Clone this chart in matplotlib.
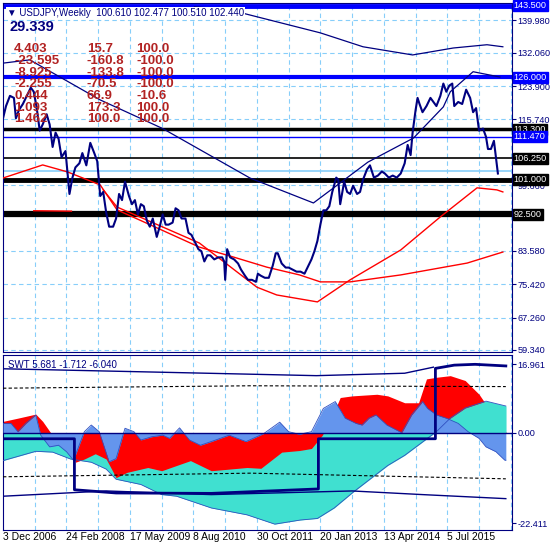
import matplotlib
matplotlib.use("Agg")
import matplotlib.pyplot as plt
import numpy as np
import pandas as pd

plt.rcParams['font.family'] = ['Liberation Sans', 'DejaVu Sans']

navy = '#000080'
gridc = '#87cefa'
tableRed = '#b22222'

start = pd.Timestamp('2006-12-03')

# weekly closes (approx)
priceDates = ['2006-12-03','2006-12-24','2007-01-21','2007-02-18','2007-03-04','2007-03-25','2007-04-22',
    '2007-05-20','2007-06-17','2007-07-08','2007-07-29','2007-08-19','2007-09-09','2007-10-07','2007-10-28',
    '2007-11-18','2007-12-09','2007-12-30','2008-01-20','2008-02-17','2008-03-16','2008-04-06','2008-04-27',
    '2008-05-25','2008-06-15','2008-07-13','2008-08-10','2008-09-07','2008-09-28','2008-10-19','2008-11-09',
    '2008-11-30','2008-12-21','2009-01-18','2009-02-08','2009-03-01','2009-03-22','2009-04-12','2009-05-10',
    '2009-05-31','2009-06-21','2009-07-12','2009-08-02','2009-08-23','2009-09-13','2009-10-04','2009-10-25',
    '2009-11-22','2009-12-13','2010-01-03','2010-01-24','2010-02-14','2010-03-14','2010-04-04','2010-04-25',
    '2010-05-16','2010-06-13','2010-07-04','2010-07-25','2010-08-22','2010-09-12','2010-10-03','2010-10-24',
    '2010-11-14','2010-12-05','2011-01-02','2011-01-30','2011-02-27','2011-03-13','2011-03-20','2011-04-03',
    '2011-04-24','2011-05-22','2011-06-19','2011-07-10','2011-08-07','2011-08-28','2011-09-25','2011-10-23',
    '2011-11-06','2011-11-27','2011-12-25','2012-01-22','2012-02-19','2012-03-11','2012-03-25','2012-04-22',
    '2012-05-20','2012-06-10','2012-07-08','2012-08-05','2012-09-02','2012-09-30','2012-10-28','2012-11-18',
    '2012-12-09','2012-12-30','2013-01-20','2013-02-10','2013-03-03','2013-03-24','2013-04-14','2013-05-12',
    '2013-05-26','2013-06-09','2013-07-07','2013-07-28','2013-08-18','2013-09-08','2013-10-06','2013-10-27',
    '2013-11-17','2013-12-15','2014-01-05','2014-02-02','2014-03-02','2014-03-30','2014-04-20','2014-05-18',
    '2014-06-15','2014-07-13','2014-08-10','2014-09-07','2014-09-28','2014-10-19','2014-11-02','2014-11-23',
    '2014-12-07','2014-12-21','2015-01-11','2015-02-08','2015-03-08','2015-03-29','2015-04-19','2015-05-17',
    '2015-06-07','2015-06-28','2015-07-19','2015-08-09','2015-08-23','2015-09-20','2015-10-18','2015-11-15',
    '2015-12-13','2016-01-03','2016-01-24','2016-02-14','2016-03-13','2016-04-03','2016-04-17','2016-05-08',
    '2016-05-29','2016-06-12','2016-06-26']
priceClose = [116.0,119.0,121.5,121.0,116.0,118.0,119.5,121.5,123.5,122.5,118.5,113.0,114.5,117.0,114.5,
    109.0,112.5,111.0,106.5,108.0,97.5,101.5,104.0,105.0,107.5,104.5,110.0,107.5,105.5,97.0,98.0,
    93.0,89.5,89.5,91.5,97.5,96.0,100.5,97.0,95.0,96.0,92.5,95.0,94.5,91.0,89.5,91.5,
    87.0,89.5,92.5,90.0,90.0,90.5,94.0,93.5,91.5,91.5,88.0,87.5,85.5,84.0,83.5,81.0,
    82.5,82.5,81.5,82.0,82.0,81.0,76.5,84.0,82.0,81.5,80.5,79.0,77.5,76.5,76.5,76.0,
    78.0,77.5,77.0,77.0,80.0,83.0,83.0,80.5,79.5,79.5,79.0,78.5,78.5,78.0,80.0,81.5,
    83.5,86.0,90.0,93.5,93.5,94.5,98.0,101.5,101.0,95.0,100.5,98.0,97.5,99.5,97.5,98.0,
    101.0,103.5,104.5,101.5,102.0,103.0,102.5,101.5,102.0,101.5,102.5,105.0,109.5,107.0,112.5,118.0,
    121.0,119.5,117.5,119.0,121.0,120.0,119.0,121.5,124.5,122.5,124.0,124.5,119.0,120.0,119.5,123.0,
    121.0,117.5,118.5,113.0,113.5,111.5,108.5,108.5,110.5,106.5,102.5]

# indicator curves on the price panel (week index, price)
maLongWk = [0, 40, 65, 98, 115, 138, 198, 232, 266, 299, 320, 350, 401, 468, 504]
maLongVal = [101.4, 104.6, 102.9, 99.7, 93.6, 91.1, 84.5, 82.1, 79.6, 77.7, 76.0, 76.0, 77.7, 80.6, 83.3]
maStubWk = [31, 69]
maStubVal = [93.4, 93.3]
maShortWk = [101, 115, 198, 256, 276, 317, 350, 401, 441, 478, 498, 504]
maShortVal = [98.5, 94.3, 85.5, 74.7, 72.8, 71.1, 76.5, 83.8, 91.9, 99.0, 98.5, 98.0]
bandLowWk = [0, 27, 98, 161, 249, 313, 368, 414, 444, 451, 474, 501]
bandLowVal = [129.5, 130.3, 120.5, 113.5, 101.4, 95.3, 105.3, 111.2, 118.8, 122.5, 127.4, 126.1]
bandUpWk = [193, 229, 320, 363, 413, 454, 488, 504]
bandUpVal = [143.3, 142.5, 136.9, 133.5, 131.5, 133.2, 134.0, 133.5]

levels = [143.5, 126.0, 113.3, 111.47, 106.25, 103.14, 101.0, 92.5]
levelColors = ['#0000ff', '#0000ff', 'black', '#0000ff', 'black', '#87cefa', 'black', 'black']
levelWidths = [3.5, 3, 2.5, 1, 1.2, 1.2, 3.5, 4.5]
boxLevels = [143.5, 126.0, 113.3, 111.47, 106.25, 101.0, 92.5]
boxColors = ['#0000ff', '#0000ff', 'black', '#0000ff', 'black', 'black', 'black']
priceTicks = [139.98, 132.06, 123.90, 115.74, 99.66, 83.58, 75.42, 67.26, 59.34]

tableRows = [['4.403', '15.7', '100.0'], ['-23.595', '-160.8', '-100.0'], ['-8.925', '-133.8', '-100.0'],
             ['-2.255', '-70.5', '-100.0'], ['0.444', '66.9', '-10.6'], ['1.093', '173.3', '100.0'],
             ['1.462', '100.0', '100.0']]

# SWT sub panel
fastWk = [0,8,15,23,33,38,47,56,64,71,82,89,97,107,114,123,132,139,150,161,168,178,188,199,210,228,245,263,
          279,288,299,311,323,335,345,356,362,369,376,387,402,412,423,428,437,447,459,469,480,487,497,506]
fastVal = [2.3,2.3,0.25,2.3,4.4,-0.6,-3.5,-3.1,-4.7,-6.8,0.25,1.9,0.25,-7.2,-6.4,1.1,0.25,-1.8,-1.0,-0.6,
           -1.4,1.2,-1.8,-3.1,-2.2,-0.6,-2.2,-0.2,2.6,0.25,-0.4,0.25,6.0,7.7,3.6,2.3,1.9,3.6,4.4,1.9,0.0,
           4.4,7.7,6.0,4.4,3.6,2.3,0.25,-1.4,-3.5,-4.7,-6.8]
redWk = [0,15,33,40,48,68,73,82,93,104,114,125,146,160,175,189,210,228,246,260,281,299,311,322,331,340,352,
         377,388,405,419,427,437,451,466,480,494,505]
redVal = [2.8,3.6,4.6,2.8,0,0,-7.3,-6.5,-5.2,-6.5,-11.1,-9.8,-8.6,-9.4,-8.1,-6.9,-9.4,-9.0,-8.6,-8.8,-4.8,
          -4.4,-3.9,-0.6,3.6,8.7,9.1,9.5,9.1,7.4,7.4,13.3,13.7,14.1,12.9,9.5,4.5,0.25]
slowWk = [0,33,50,68,89,104,114,139,160,175,210,246,274,299,317,334,352,370,388,405,423,437,451,466,487,507]
slowVal = [-6.9,-4.6,-4.8,-6.5,-7.3,-9.0,-11.5,-12.8,-15.3,-15.7,-18.6,-20.3,-22.6,-21.6,-21.2,-18.6,-14.9,
           -11.5,-8.1,-5.6,-2.3,0.25,3.6,6.1,7.8,6.6]
stepWk = [0, 72, 72, 114, 210, 318, 318, 436, 436, 455, 476, 507]
stepVal = [-1.5, -1.5, -14.1, -14.9, -15.0, -13.9, -1.5, -1.5, 15.9, 16.7, 16.9, 16.5]
upThinWk = [0, 150, 316, 405, 434]
upThinVal = [15.8, 15.0, 14.1, 14.7, 16.2]
lowThinWk = [0, 104, 210, 352, 423, 507]
lowThinVal = [-15.7, -14.4, -15.3, -14.4, -15.3, -16.3]
dashUpWk = [0, 250, 507]
dashUpVal = [11.0, 11.6, 11.4]
dashLowWk = [0, 250, 507]
dashLowVal = [-10.9, -10.0, -11.4]

tickWk = [0, 64, 128, 192, 256, 320, 384, 448]
tickLabels = ['3 Dec 2006', '24 Feb 2008', '17 May 2009', '8 Aug 2010', '30 Oct 2011',
              '20 Jan 2013', '13 Apr 2014', '5 Jul 2015']

priceWk = (pd.to_datetime(priceDates) - start).days / 7.0

fig = plt.figure(figsize=(5.5, 5.5), dpi=100)
ax = fig.add_axes([0.0055, 0.36, 0.925, 0.6345])
ax2 = fig.add_axes([0.0055, 0.036, 0.925, 0.3185])
xmax = 513

for a in (ax, ax2):
    a.set_xlim(0, xmax)
    for w in range(32, xmax, 32):
        a.axvline(w, color=gridc, ls=(0, (4, 3)), lw=0.8, zorder=0)
    for s in a.spines.values():
        s.set_color(navy)
    a.set_xticks([])
    a.yaxis.tick_right()
    a.tick_params(axis='y', colors=navy, labelsize=6.6, length=3, pad=1)

ax.set_ylim(58.85, 144.2)
ax.set_yticks(priceTicks)
ax.set_yticklabels(['%.3f' % v for v in priceTicks])
for v in priceTicks:
    ax.axhline(v, color=gridc, ls=(0, (4, 3)), lw=0.8, zorder=0)
for lv, c, lw in zip(levels, levelColors, levelWidths):
    ax.axhline(lv, color=c, lw=lw, zorder=2)

ax.plot(bandUpWk, bandUpVal, color=navy, lw=0.9, zorder=3)
ax.plot(bandLowWk, bandLowVal, color=navy, lw=0.9, zorder=3)
ax.plot(maLongWk, maLongVal, color='red', lw=1, zorder=3)
ax.plot(maStubWk, maStubVal, color='red', lw=1, zorder=3)
ax.plot(maShortWk, maShortVal, color='red', lw=1, zorder=3)
ax.plot(priceWk, priceClose, color=navy, lw=1.5, zorder=4)

for lv, c in zip(boxLevels, boxColors):
    ax.text(1.004, lv, '%.3f' % lv, transform=ax.get_yaxis_transform(), color='white', fontsize=6.6,
            va='center', ha='left', bbox=dict(boxstyle='square,pad=0.12', fc=c, ec=c), clip_on=False, zorder=10)

ax.text(0.008, 0.987, '\u25bc USDJPY,Weekly  100.610 102.477 100.510 102.440', transform=ax.transAxes,
        fontsize=7, color=navy, va='top', bbox=dict(fc='white', ec='none', pad=0.5))
ax.text(0.012, 0.952, '29.339', transform=ax.transAxes, fontsize=10.5, fontweight='bold', color=navy, va='top')
colX = [0.022, 0.165, 0.262]
for i, row in enumerate(tableRows):
    for j, cell in enumerate(row):
        ax.text(colX[j], 0.885 - i * 0.0335, cell, transform=ax.transAxes, fontsize=9.5,
                fontweight='bold', color=tableRed, va='top', zorder=6)

# SWT panel
ax2.set_ylim(-24.1, 19.2)
gx = np.arange(0, 508)
fast = np.interp(gx, fastWk, fastVal)
red = np.interp(gx, redWk, redVal)
slow = np.interp(gx, slowWk, slowVal)
ax2.fill_between(gx, 0, slow, color='#40e0d0', lw=0, zorder=1)
ax2.fill_between(gx, 0, red, color='#ff0000', lw=0, zorder=2)
ax2.fill_between(gx, 0, slow, where=slow > 0, color='#40e0d0', lw=0, zorder=2.5)
ax2.fill_between(gx, 0, fast, color='#6495ed', lw=0, zorder=3)
ax2.plot(gx, fast, color='#3050c0', lw=0.6, zorder=3.5)
ax2.plot(gx, slow, color='#3050c0', lw=0.6, zorder=3.5)
ax2.axhline(0, color=navy, lw=1, zorder=4)
ax2.plot(dashUpWk, dashUpVal, color='black', lw=0.8, ls=(0, (3, 2)), zorder=4)
ax2.plot(dashLowWk, dashLowVal, color='black', lw=0.8, ls=(0, (3, 2)), zorder=4)
ax2.plot(upThinWk, upThinVal, color=navy, lw=1, zorder=4)
ax2.plot(lowThinWk, lowThinVal, color=navy, lw=1, zorder=4)
ax2.plot(stepWk, stepVal, color=navy, lw=2, zorder=5)
ax2.set_yticks([16.961, 0.0, -22.411])
ax2.set_yticklabels(['16.961', '0.00', '-22.411'])
ax2.text(0.01, 0.97, 'SWT 5.681 -1.712 -6.040', transform=ax2.transAxes, fontsize=7, color=navy, va='top')

for w, lab in zip(tickWk, tickLabels):
    fig.text(0.0055 + 0.925 * w / xmax, 0.033, lab, fontsize=7.5, color='black', ha='left', va='top')

fig.savefig('out.png', dpi=100)
